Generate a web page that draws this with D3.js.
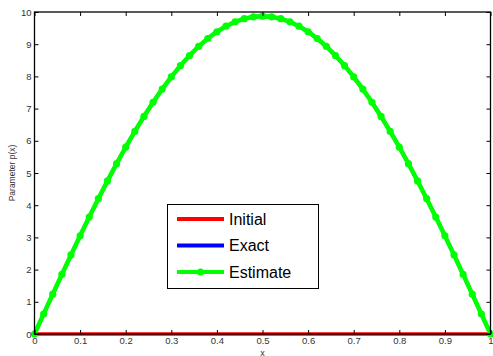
<!DOCTYPE html>
<html><head><meta charset="utf-8">
<script src="https://cdn.jsdelivr.net/npm/d3@7"></script>
<style>body{margin:0;background:#fff}svg{display:block}text{font-family:"Liberation Sans",Arial,sans-serif}</style>
</head><body>
<svg id="c" width="493" height="356"></svg>
<script>
const xs = [0,0.02,0.04,0.06,0.08,0.1,0.12,0.14,0.16,0.18,0.2,0.22,0.24,0.26,0.28,0.3,0.32,0.34,0.36,0.38,0.4,0.42,0.44,0.46,0.48,0.5,0.52,0.54,0.56,0.58,0.6,0.62,0.64,0.66,0.68,0.7,0.72,0.74,0.76,0.78,0.8,0.82,0.84,0.86,0.88,0.9,0.92,0.94,0.96,0.98,1];
const half = [0,0.620,1.237,1.849,2.455,3.050,3.633,4.202,4.755,5.289,5.801,6.291,6.756,7.195,7.605,7.985,8.333,8.649,8.930,9.177,9.387,9.560,9.695,9.792,9.850];
const exact = half.concat([9.870], half.slice().reverse());
const estimate = exact.slice();
const initial = xs.map(() => 0);
const xTicks = [0,0.1,0.2,0.3,0.4,0.5,0.6,0.7,0.8,0.9,1];
const yTicks = [0,1,2,3,4,5,6,7,8,9,10];
const legendLabels = ["Initial","Exact","Estimate"];
const colors = ["#ff0000","#0000ff","#00ff00"];

const svg = d3.select("#c");
const L=34.5, R=490.5, T=12, B=334;
const x = d3.scaleLinear().domain([0,1]).range([L,R]);
const y = d3.scaleLinear().domain([0,10]).range([B,T]);

const line = d3.line().x((d,i)=>x(xs[i])).y(d=>y(d));
svg.append("path").datum(initial).attr("d",line).attr("fill","none").attr("stroke",colors[0]).attr("stroke-width",3.5);
svg.append("path").datum(exact).attr("d",line).attr("fill","none").attr("stroke",colors[1]).attr("stroke-width",3.5);
svg.append("path").datum(estimate).attr("d",line).attr("fill","none").attr("stroke",colors[2]).attr("stroke-width",4.5);
svg.selectAll("circle.m").data(estimate).enter().append("circle").attr("class","m")
  .attr("cx",(d,i)=>x(xs[i])).attr("cy",d=>y(d)).attr("r",3.6).attr("fill",colors[2]);

// axes box
const ax = svg.append("g");
const gb = ax.append("g").attr("transform",`translate(0,${B})`).call(d3.axisBottom(x).tickValues(xTicks).tickSizeInner(-4).tickSizeOuter(0).tickFormat(d=>d3.format("")(d)));
ax.append("g").attr("transform",`translate(0,${T})`).call(d3.axisTop(x).tickValues(xTicks).tickSizeInner(-4).tickSizeOuter(0).tickFormat(""));
ax.append("g").attr("transform",`translate(${L},0)`).call(d3.axisLeft(y).tickValues(yTicks).tickSizeInner(-4).tickSizeOuter(0));
ax.append("g").attr("transform",`translate(${R},0)`).call(d3.axisRight(y).tickValues(yTicks).tickSizeInner(-4).tickSizeOuter(0).tickFormat(""));
ax.selectAll(".domain").remove();
ax.selectAll(".tick line").attr("stroke","#000").attr("stroke-width",1);
ax.selectAll(".tick text").attr("fill","#333").attr("font-size",9.5).attr("font-family","Liberation Sans, Arial, sans-serif");
gb.selectAll(".tick text").attr("dy","0.78em");
svg.append("rect").attr("x",L).attr("y",T).attr("width",R-L).attr("height",B-T).attr("fill","none").attr("stroke","#000").attr("stroke-width",1.3);

svg.append("text").attr("x",(L+R)/2).attr("y",355.5).attr("text-anchor","middle").attr("font-size",9).attr("fill","#333").text("x");
svg.append("text").attr("transform",`translate(15,${(T+B)/2}) rotate(-90)`).attr("text-anchor","middle").attr("font-size",8.5).attr("fill","#333").text("Parameter p(x)");

// legend
const lg = svg.append("g");
lg.append("rect").attr("x",167.5).attr("y",204.5).attr("width",151).attr("height",84).attr("fill","#fff").attr("stroke","#000").attr("stroke-width",1);
legendLabels.forEach((lab,i)=>{
  const yy = 219 + i*26.5;
  lg.append("line").attr("x1",177).attr("x2",224).attr("y1",yy).attr("y2",yy).attr("stroke",colors[i]).attr("stroke-width",4);
  if(i===2) lg.append("circle").attr("cx",200.5).attr("cy",yy).attr("r",3.6).attr("fill",colors[i]);
  lg.append("text").attr("x",229).attr("y",yy+5.5).attr("font-size",16).attr("fill","#000").text(lab);
});
</script>
</body></html>
